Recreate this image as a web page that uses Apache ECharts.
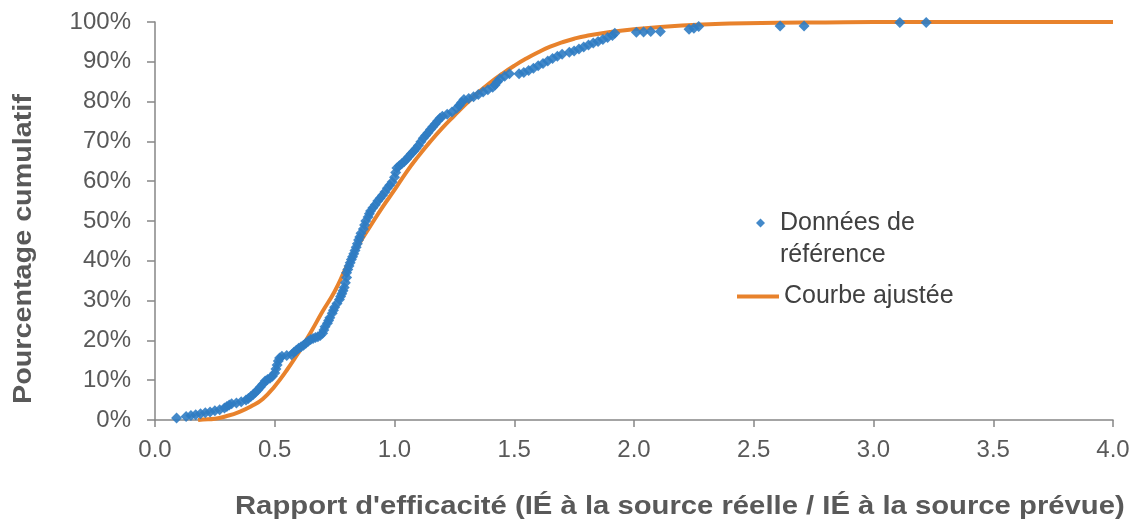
<!DOCTYPE html>
<html>
<head>
<meta charset="utf-8">
<script src="https://cdn.jsdelivr.net/npm/echarts@6/dist/echarts.min.js"></script>
<style>
  html, body { margin: 0; padding: 0; background: #fff; }
  #chart { width: 1133px; height: 524px; }
</style>
</head>
<body>
<div id="chart"></div>
<script>
const refX = [0.09, 0.13, 0.15, 0.17, 0.19, 0.21, 0.23, 0.25, 0.27, 0.29, 0.30, 0.31, 0.32, 0.34, 0.36, 0.38, 0.39, 0.40,
    0.41, 0.42, 0.43, 0.44, 0.45, 0.46, 0.47, 0.48, 0.49, 0.50, 0.505, 0.51, 0.515, 0.52, 0.53, 0.55, 0.57, 0.58, 0.59,
    0.60, 0.61, 0.62, 0.63, 0.64, 0.65, 0.66, 0.67, 0.68, 0.69, 0.70, 0.705, 0.71, 0.72, 0.725, 0.73, 0.74, 0.745, 0.75,
    0.76, 0.77, 0.775, 0.78, 0.785, 0.79, 0.795, 0.80, 0.80, 0.805, 0.81, 0.815, 0.82, 0.825, 0.83, 0.835, 0.84, 0.845,
    0.85, 0.855, 0.86, 0.87, 0.875, 0.88, 0.89, 0.895, 0.90, 0.91, 0.92, 0.93, 0.94, 0.95, 0.96, 0.97, 0.98, 0.99, 1.00,
    1.005, 1.01, 1.02, 1.03, 1.04, 1.05, 1.06, 1.07, 1.08, 1.09, 1.10, 1.11, 1.12, 1.13, 1.14, 1.15, 1.16, 1.17, 1.18,
    1.19, 1.20, 1.22, 1.24, 1.26, 1.27, 1.28, 1.29, 1.31, 1.33, 1.35, 1.37, 1.39, 1.41, 1.42, 1.43, 1.44, 1.46, 1.48,
    1.52, 1.54, 1.56, 1.58, 1.60, 1.62, 1.64, 1.66, 1.68, 1.70, 1.73, 1.75, 1.77, 1.79, 1.81, 1.83, 1.85, 1.87, 1.89,
    1.91, 1.92, 2.01, 2.04, 2.07, 2.11, 2.23, 2.25, 2.27, 2.61, 2.71, 3.11, 3.22];
const refY = [0.5, 0.9, 1.1, 1.3, 1.6, 1.8, 2.0, 2.3, 2.6, 3.0, 3.4, 3.8, 4.1, 4.3, 4.6, 5.0, 5.4, 5.9,
    6.4, 7.0, 7.6, 8.3, 9.0, 9.8, 10.2, 10.5, 11.0, 11.8, 12.8, 13.8, 14.8, 15.6, 16.0, 16.2, 16.4, 17.0, 17.5,
    18.0, 18.4, 18.8, 19.3, 19.8, 20.2, 20.5, 20.7, 20.9, 21.2, 21.8, 22.6, 23.4, 24.3, 25.0, 25.7, 26.8, 27.6, 28.3,
    29.3, 30.3, 31.0, 31.7, 32.5, 33.3, 34.5, 35.8, 37.0, 37.8, 38.7, 39.5, 40.3, 41.0, 41.8, 42.6, 43.4, 44.3,
    45.2, 46.0, 46.9, 48.0, 49.0, 50.0, 51.0, 51.8, 52.5, 53.3, 54.1, 55.0, 55.7, 56.5, 57.3, 58.2, 59.0, 59.8, 61.0,
    62.2, 63.3, 63.9, 64.4, 64.9, 65.5, 66.2, 66.9, 67.5, 68.2, 69.0, 69.9, 70.8, 71.5, 72.2, 73.0, 73.7, 74.4, 75.1,
    75.8, 76.3, 76.8, 77.4, 78.3, 79.0, 79.8, 80.5, 80.8, 81.2, 81.8, 82.4, 83.0, 83.6, 84.2, 85.0, 85.7, 86.4, 87.0,
    87.0, 87.3, 87.8, 88.4, 89.0, 89.6, 90.2, 90.8, 91.4, 91.9, 92.4, 92.7, 93.2, 93.7, 94.2, 94.7, 95.1, 95.6, 96.1,
    96.6, 97.2, 97.4, 97.5, 97.6, 97.6, 98.2, 98.4, 98.9, 99.0, 99.0, 99.9, 99.9];

// fitted curve
const fitX = [0.18, 0.20, 0.25, 0.30, 0.35, 0.40, 0.45, 0.50, 0.55, 0.60, 0.65, 0.70, 0.75, 0.80, 0.85, 0.90, 0.95, 1.00,
    1.05, 1.10, 1.15, 1.20, 1.25, 1.30, 1.35, 1.40, 1.45, 1.50, 1.55, 1.60, 1.65, 1.70, 1.75, 1.80, 1.90, 2.00, 2.20,
    2.40, 2.60, 2.80, 3.00, 3.50, 4.00];
const fitY = [0.0, 0.1, 0.3, 1.0, 2.0, 3.4, 5.3, 8.5, 12.5, 17.0, 22.0, 27.3, 32.3, 38.5, 44.0, 48.8, 53.5, 57.8,
    62.3, 66.3, 70.0, 73.4, 76.5, 79.5, 82.3, 84.8, 87.0, 89.0, 90.8, 92.4, 93.8, 94.9, 95.8, 96.5, 97.5, 98.2, 99.1,
    99.6, 99.8, 99.9, 100, 100, 100];

const seriesNames = ['Données de référence', 'Courbe ajustée'];
const xTitle = "Rapport d'efficacité (IÉ à la source réelle / IÉ à la source prévue)";
const yTitle = 'Pourcentage cumulatif';

const textColor = '#595959';
const axisColor = '#868686';
const blue = '#2f7cc3';
const orange = '#e8822c';
const font = "'Liberation Sans', Arial, sans-serif";

const chart = echarts.init(document.getElementById('chart'));

chart.setOption({
    animation: false,
    grid: { left: 155, right: 20, top: 22, bottom: 104 },
    xAxis: {
        type: 'value',
        min: 0,
        max: 4,
        interval: 0.5,
        axisLine: { lineStyle: { color: axisColor, width: 1.5 } },
        axisTick: { show: true, length: 7, lineStyle: { color: axisColor, width: 1.5 } },
        axisLabel: { color: textColor, fontSize: 24, fontFamily: font, margin: 18, formatter: v => v.toFixed(1) },
        splitLine: { show: false }
    },
    yAxis: {
        type: 'value',
        min: 0,
        max: 100,
        interval: 10,
        axisLine: { show: true, lineStyle: { color: axisColor, width: 1.5 } },
        axisTick: { show: true, length: 8, lineStyle: { color: axisColor, width: 1.5 } },
        axisLabel: { color: textColor, fontSize: 24, fontFamily: font, margin: 24, formatter: '{value}%' },
        splitLine: { show: false }
    },
    legend: [
        {
            data: [seriesNames[0]],
            left: 756,
            top: 175,
            padding: 0,
            selectedMode: false,
            icon: 'diamond',
            itemWidth: 9,
            itemHeight: 9,
            // leading empty line keeps the marker level with the first text line
            formatter: () => '\nDonnées de\nréférence',
            textStyle: { color: '#404040', fontSize: 25, fontFamily: font, lineHeight: 32, padding: [0, 0, 0, 10] }
        },
        {
            data: [seriesNames[1]],
            left: 737,
            top: 284,
            padding: 0,
            selectedMode: false,
            icon: 'rect',
            itemWidth: 42,
            itemHeight: 4,
            textStyle: { color: '#404040', fontSize: 25, fontFamily: font }
        }
    ],
    graphic: [
        {
            type: 'text',
            x: 235,
            y: 495,
            scaleX: 1.17,
            style: { text: xTitle, fill: textColor, font: 'bold 25px ' + font, verticalAlign: 'top' }
        },
        {
            type: 'text',
            x: 12,
            y: 404,
            rotation: Math.PI / 2,
            scaleX: 1.15,
            style: { text: yTitle, fill: textColor, font: 'bold 25px ' + font, verticalAlign: 'top' }
        }
    ],
    series: [
        {
            name: seriesNames[1],
            type: 'line',
            data: fitX.map((x, i) => [x, fitY[i]]),
            smooth: true,
            symbol: 'none',
            lineStyle: { color: orange, width: 4 },
            itemStyle: { color: orange },
            z: 2
        },
        {
            name: seriesNames[0],
            type: 'scatter',
            data: refX.map((x, i) => [x, refY[i]]),
            symbol: 'diamond',
            symbolSize: 11,
            itemStyle: { color: blue, opacity: 0.9 },
            z: 3
        }
    ]
});
</script>
</body>
</html>
